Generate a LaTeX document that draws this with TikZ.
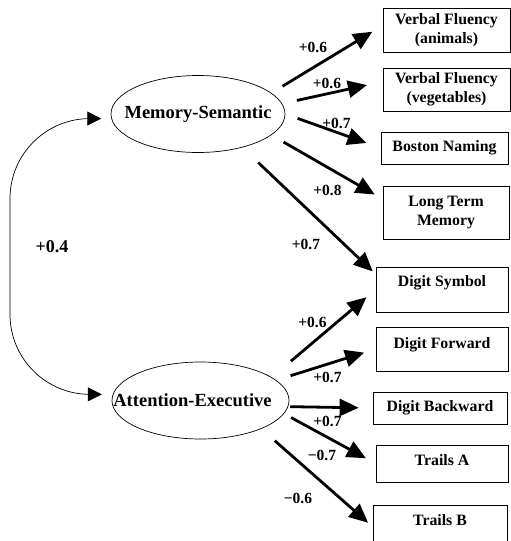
\documentclass[tikz,border=0pt]{standalone}
\usepackage{fontspec}
\setmainfont{Liberation Serif}
\usetikzlibrary{shapes.geometric,arrows.meta}

\begin{document}
\begin{tikzpicture}[x=1pt, y=-1pt,
  lat/.style={ellipse, draw, line width=0.7pt, inner sep=0pt, minimum width=174pt, minimum height=77pt,
    font=\bfseries\fontsize{18.5}{20}\selectfont},
  obs/.style={rectangle, draw, line width=0.8pt, inner sep=1pt, align=center,
    font=\bfseries\fontsize{15.8}{18.8}\selectfont},
  arr/.style={line width=2.8pt, -{Triangle[length=19pt,width=17pt]}},
  cv/.style={line width=0.7pt, rounded corners=80pt,
    {Triangle[length=14pt,width=14pt]}-{Triangle[length=14pt,width=14pt]}},
  wt/.style={inner sep=0pt, font=\bfseries\fontsize{15.5}{17}\selectfont}
]
\useasboundingbox (0,0) rectangle (511,541);
\clip (0,0) rectangle (511,541);

% latent factors
\node[lat] (ms) at (198,114) {\makebox[0pt]{Memory-Semantic}};
\node[lat, minimum width=177pt] (ae) at (200.5,400.5) {\makebox[0pt]{\kern-16pt Attention-Executive}};

% observed tests
\node[obs, minimum width=127pt, minimum height=44pt] (vfa) at (446.5,30) {Verbal Fluency\\(animals)};
\node[obs, minimum width=127pt, minimum height=43pt] (vfv) at (446.5,89.5) {Verbal Fluency\\(vegetables)};
\node[obs, minimum width=127pt, minimum height=32pt] (bn) at (444.5,148) {Boston Naming};
\node[obs, minimum width=126pt, minimum height=53pt] (ltm) at (446,212.5) {Long Term\\Memory};
\node[obs, minimum width=132pt, minimum height=45pt, text depth=16pt] (ds) at (442,289.5) {Digit Symbol};
\node[obs, minimum width=132pt, minimum height=44pt, text depth=12pt] (df) at (442,349) {Digit Forward};
\node[obs, minimum width=134pt, minimum height=32pt] (db) at (440,408) {Digit Backward};
\node[obs, minimum width=132pt, minimum height=37pt, text depth=6pt] (ta) at (442,463.5) {Trails A};
\node[obs, minimum width=134pt, minimum height=60pt, text depth=29pt] (tb) at (440,535) {Trails B};

% loadings
\draw[arr, shorten <=13pt, shorten >=12pt] (ms.16) -- (vfa.176);
\draw[arr, shorten <=15pt, shorten >=16pt] (ms.7) -- (vfv.173);
\draw[arr, shorten <=13pt, shorten >=15pt] (ms.0) -- (bn.west);
\draw[arr, shorten <=14pt, shorten >=9pt] (ms.-16) -- (ltm.168);
\draw[arr, shorten <=22pt, shorten >=4pt] (ms.-37) -- (ds.167);

\draw[arr, shorten <=25pt, shorten >=12pt] (ae.18) -- (ds.west);
\draw[arr, shorten <=15pt, shorten >=12pt] (ae.15) -- (df.west);
\draw[arr, shorten <=2pt, shorten >=14pt] (ae.-4) -- (db.west);
\draw[arr, shorten <=8pt, shorten >=11pt] (ae.-9) -- (ta.west);
\draw[arr, shorten <=18pt, shorten >=6pt] (ae.-25) -- (tb.173);

% factor correlation
\coordinate (bend) at (10,256);
\draw[cv, shorten <=10pt, shorten >=11pt] (ms.183) -| (bend |- ae.176) -- (ae.176);

% weights
\node[wt] (w1) at (313,47) {+0.6};
\node[wt] (w2) at (327,83.5) {+0.6};
\node[wt] (w3) at (336.5,123) {+0.7};
\node[wt] (w4) at (327.5,190) {+0.8};
\node[wt] (w5) at (306,244.5) {+0.7};
\node[wt] (w6) at (312.5,322) {+0.6};
\node[wt] (w7) at (327.5,377) {+0.7};
\node[wt] (w8) at (327.5,421) {+0.7};
\node[wt] (w9) at (322,455) {−0.7};
\node[wt] (w10) at (298,498) {−0.6};
\node[wt, font=\bfseries\fontsize{18}{20}\selectfont] (r) at (52,247) {+0.4};

\end{tikzpicture}
\end{document}
